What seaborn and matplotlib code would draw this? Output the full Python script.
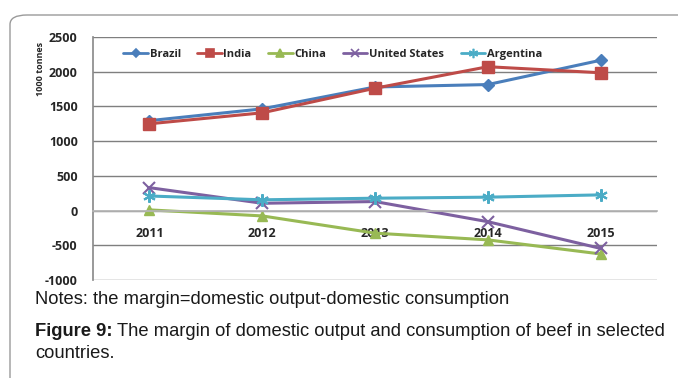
import matplotlib
matplotlib.use("Agg")
import matplotlib.pyplot as plt
import seaborn as sns
import pandas as pd
from matplotlib.patches import FancyBboxPatch
from matplotlib.lines import Line2D

years = ["2011", "2012", "2013", "2014", "2015"]
countries = ["Brazil", "India", "China", "United States", "Argentina"]
brazil = [1295, 1465, 1780, 1815, 2165]
india = [1250, 1408, 1762, 2072, 1985]
china = [10, -77, -325, -422, -625]
united_states = [330, 105, 130, -160, -545]
argentina = [210, 155, 178, 193, 226]
yticks = [2500, 2000, 1500, 1000, 500, 0, -500, -1000]

series = [brazil, india, china, united_states, argentina]
rows = []
for c, vals in zip(countries, series):
    for i, (y, v) in enumerate(zip(years, vals)):
        rows.append({"pos": i, "year": y, "country": c, "value": v})
df = pd.DataFrame(rows)

sns.set_theme(style="white")
plt.rcParams["font.family"] = ["Open Sans", "DejaVu Sans"]

colors = {"Brazil": "#4A7EBB", "India": "#BE4B48", "China": "#98B954",
          "United States": "#7D60A0", "Argentina": "#4BACC6"}
markers = {"Brazil": "D", "India": "s", "China": "^",
           "United States": "x", "Argentina": (6, 2, 0)}
msizes = {"Brazil": 6, "India": 8, "China": 7, "United States": 8, "Argentina": 9}

fig = plt.figure(figsize=(6.78, 3.78), dpi=100)
# outer frame
frame = FancyBboxPatch((10 / 678, -0.05), 1.2, 1 - 15 / 378 + 0.05,
                       boxstyle="round,pad=0,rounding_size=0.025",
                       transform=fig.transFigure, fill=False,
                       edgecolor="#9a9a9a", linewidth=1.0)
fig.patches.append(frame)

ax = fig.add_axes([93 / 678, 1 - 280 / 378, (657 - 93) / 678, (280 - 37) / 378])

for c in countries:
    sub = df[df["country"] == c]
    line_art = c in ("United States", "Argentina")
    sns.lineplot(data=sub, x="pos", y="value", color=colors[c], marker=markers[c],
                 markersize=msizes[c], markeredgecolor=colors[c],
                 markeredgewidth=1.5 if line_art else 1.0,
                 linewidth=2.2, ax=ax, legend=False)

ax.grid(axis="y", color="#7f7f7f", linewidth=1.0)
ax.set_axisbelow(True)
for s in ["top", "right"]:
    ax.spines[s].set_visible(False)
ax.spines["left"].set_color("#8c8c8c")
ax.spines["bottom"].set_position(("data", 0))
ax.spines["bottom"].set_color("#b5b5b5")

ax.set_xlim(-0.5, 4.5)
ax.set_ylim(-1000, 2500)
ax.set_yticks(yticks)
ax.set_yticklabels([str(t) for t in yticks], fontsize=9, fontweight="bold")
ax.set_xticks(range(len(years)))
ax.set_xticklabels(years, fontsize=9, fontweight="bold")
ax.tick_params(axis="y", length=0, pad=11)
ax.tick_params(axis="x", length=0, pad=12)
ax.set_xlabel("")
ax.set_ylabel("1000 tonnes", fontsize=6.5, fontweight="bold")
ax.yaxis.set_label_coords(-0.085, 0.87)

handles = [Line2D([], [], color=colors[c], marker=markers[c], markersize=msizes[c] * 0.75,
                  linewidth=2, markeredgewidth=1.2) for c in countries]
leg = ax.legend(handles, countries, loc="center", bbox_to_anchor=(0.425, 0.93),
                ncol=5, frameon=False, handlelength=2.2, handletextpad=0.15,
                columnspacing=1.5, prop={"weight": "bold", "size": 8})

fs = 13.2
fig.text(35 / 678, 1 - 299 / 378, "Notes: the margin=domestic output-domestic consumption",
         fontsize=fs, family="Liberation Sans", va="center", color="#1a1a1a")
fig.text(35 / 678, 1 - 332 / 378, "Figure 9:", fontsize=fs, family="Liberation Sans",
         fontweight="bold", va="center", color="#1a1a1a")
fig.text(117 / 678, 1 - 332 / 378,
         "The margin of domestic output and consumption of beef in selected",
         fontsize=fs, family="Liberation Sans", va="center", color="#1a1a1a")
fig.text(35 / 678, 1 - 353 / 378, "countries.", fontsize=fs, family="Liberation Sans",
         va="center", color="#1a1a1a")

fig.savefig("out.png", dpi=100)
